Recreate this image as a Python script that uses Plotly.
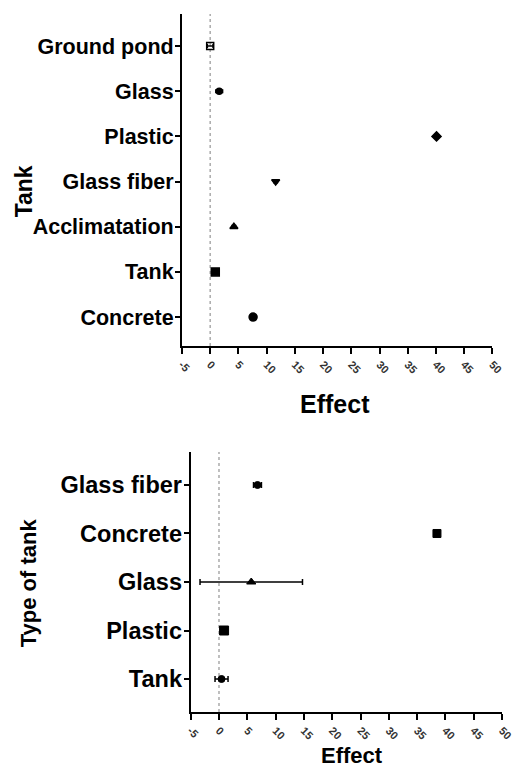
import plotly.graph_objects as go

# Upper panel: effect by tank category
tank_labels = ["Concrete", "Tank", "Acclimatation", "Glass fiber", "Plastic", "Glass", "Ground pond"]
tank_effect = [7.6, 0.9, 4.2, 11.6, 40.1, 1.6, 0.0]
tank_err = [0.4, 0.3, 0.3, 0.3, 0.3, 0.6, 0.5]
tank_symbols = ["circle", "square", "triangle-up", "triangle-down", "diamond", "circle", "square-open"]
tank_sizes = [8, 8, 7, 7, 7, 6, 7]

# Lower panel: effect by type of tank
type_labels = ["Tank", "Plastic", "Glass", "Concrete", "Glass fiber"]
type_effect = [0.45, 0.9, 5.7, 38.5, 6.8]
type_err = [1.15, 0.4, 9.05, 0.3, 0.7]
type_symbols = ["circle", "square", "triangle-up", "square", "circle"]
type_sizes = [7, 9, 8, 8, 7]

x_ticks = list(range(-5, 55, 5))

W, H = 516, 769
FONT = "Liberation Sans, Arial, sans-serif"

fig = go.Figure()

fig.add_trace(go.Scatter(
    x=tank_effect, y=list(range(len(tank_labels))), mode="markers",
    marker=dict(symbol=tank_symbols, size=tank_sizes, color="black", opacity=1,
                line=dict(color="black", width=1.5)),
    error_x=dict(type="data", array=tank_err, color="black", thickness=1.5, width=2),
    xaxis="x", yaxis="y", showlegend=False, cliponaxis=False,
))

fig.add_trace(go.Scatter(
    x=type_effect, y=list(range(len(type_labels))), mode="markers",
    marker=dict(symbol=type_symbols, size=type_sizes, color="black", opacity=1,
                line=dict(color="black", width=1)),
    error_x=dict(type="data", array=type_err, color="black", thickness=1.5, width=3),
    xaxis="x2", yaxis="y2", showlegend=False, cliponaxis=False,
))

xcommon = dict(
    range=[-5, 50], tickvals=x_ticks, ticktext=[str(v) for v in x_ticks],
    tickangle=45, tickfont=dict(family=FONT, size=11, color="#333333", weight="bold"),
    showline=True, linecolor="black", linewidth=2, ticks="outside",
    ticklen=6, tickwidth=2, tickcolor="black", showgrid=False, zeroline=False,
)
ycommon = dict(
    showline=True, linecolor="black", linewidth=2, ticks="outside",
    ticklen=5, tickwidth=2, tickcolor="black", showgrid=False, zeroline=False,
    ticklabelstandoff=-3,
)

fig.update_layout(
    width=W, height=H, margin=dict(l=0, r=0, t=0, b=0),
    plot_bgcolor="white", paper_bgcolor="white",
    xaxis=dict(domain=[183 / W, 504 / W], anchor="y", **xcommon),
    yaxis=dict(domain=[(H - 346) / H, (H - 14) / H], anchor="x",
               range=[-0.64, 6.71], tickvals=list(range(len(tank_labels))),
               ticktext=tank_labels,
               tickfont=dict(family=FONT, size=21.5, color="black", weight="bold"),
               **ycommon),
    xaxis2=dict(domain=[192 / W, 514 / W], anchor="y2", **xcommon),
    yaxis2=dict(domain=[(H - 712) / H, (H - 452) / H], anchor="x2",
                range=[-0.68, 4.68], tickvals=list(range(len(type_labels))),
                ticktext=type_labels,
                tickfont=dict(family=FONT, size=23.5, color="black", weight="bold"),
                **ycommon),
)

# Dotted reference line at zero effect
for xr, yr in (("x", "y domain"), ("x2", "y2 domain")):
    fig.add_shape(type="line", xref=xr, yref=yr, x0=0, x1=0, y0=0, y1=1,
                  line=dict(color="#aaaaaa", width=1.5, dash="dot"), layer="below")


def title(text, cx, cy, size, angle=0):
    fig.add_annotation(text=text, x=cx / W, y=(H - cy) / H, xref="paper", yref="paper",
                       xanchor="center", yanchor="middle", textangle=angle,
                       showarrow=False,
                       font=dict(family=FONT, size=size, color="black", weight="bold"))


title("Tank", 20, 191, 23, -90)
title("Effect", 341, 404, 25)
title("Type of tank", 24, 583, 22, -90)
title("Effect", 359, 755, 22)

fig.write_html("out.html")
